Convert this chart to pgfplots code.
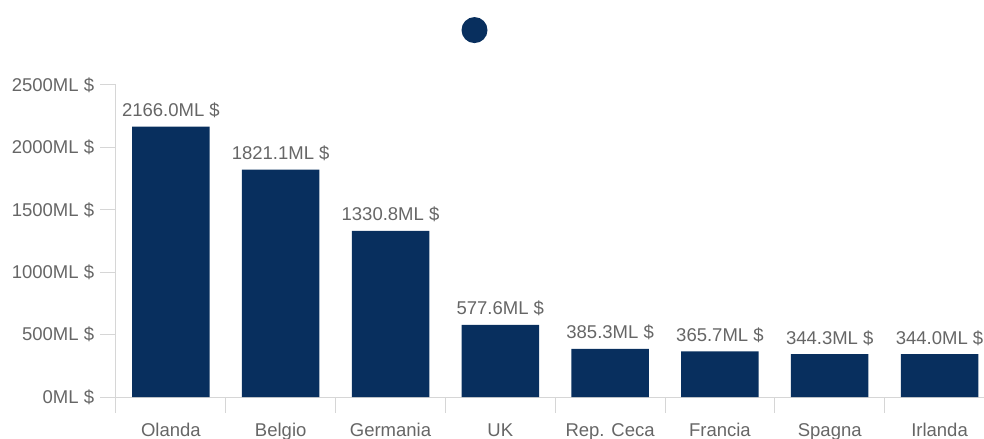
\documentclass[border=0pt]{standalone}
\usepackage{fontspec}
\setmainfont{Liberation Sans}
\usepackage{pgfplots}
\pgfplotsset{compat=1.18}
\definecolor{barc}{RGB}{8,47,94}
\definecolor{txt}{RGB}{102,102,102}
\definecolor{axc}{RGB}{214,214,214}
\begin{document}
\fontsize{18.5bp}{22bp}\selectfont
\begin{tikzpicture}
\begin{axis}[
  at={(0,0)}, anchor=south west,
  scale only axis, width=868bp, height=312bp,
  xmin=-0.5, xmax=7.405, ymin=0, ymax=2500,
  axis lines=left, axis line style={axc, -, line width=1bp},
  clip=false,
  font=\fontsize{18.5bp}{22bp}\selectfont,
  ticklabel style={txt},
  ytick={0,500,...,2500},
  yticklabels={0ML \$,500ML \$,1000ML \$,1500ML \$,2000ML \$,2500ML \$},
  xtick={-0.5,0.5,...,6.5},
  xticklabels={},
  tick align=outside, major tick length=15.5bp,
  tick style={axc, line width=1bp},
  extra x ticks={0,1,2,3,4,5,6,7},
  extra x tick labels={Olanda,Belgio,Germania,UK,Rep. Ceca,Francia,Spagna,Irlanda},
  extra x tick style={major tick length=0pt, tick style={draw=none},
     xticklabel style={anchor=base, yshift=-39bp}},
  /pgf/number format/assume math mode=true,
  /pgf/number format/1000 sep={},
  nodes near coords={\pgfmathprintnumber[fixed,fixed zerofill,precision=1]{\pgfplotspointmeta}ML \$},
  nodes near coords style={txt, anchor=base, yshift=10bp},
  legend style={at={(0.4136,1.176)}, anchor=center, draw=none, fill=none, inner sep=0pt,
     legend image code/.code={\fill[barc] (0bp,0bp) circle (13bp);},
     nodes={inner sep=0pt}},
]
\addplot[ybar, bar width=77.5bp, fill=barc, draw=none] coordinates {
  (0,2166.0) (1,1821.1) (2,1330.8) (3,577.6) (4,385.3) (5,365.7) (6,344.3) (7,344.0)
};
\addlegendentry{}
\end{axis}
\pgfresetboundingbox
\useasboundingbox (-116bp,-42bp) rectangle (868bp,397bp);
\end{tikzpicture}
\end{document}
